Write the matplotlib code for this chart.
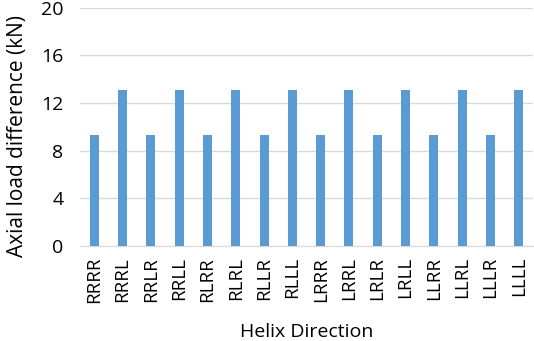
import numpy as np
import matplotlib.pyplot as plt

plt.rcParams['font.family'] = ['Open Sans', 'DejaVu Sans']

# helix combinations and their axial load difference
directions = ['RRRR', 'RRRL', 'RRLR', 'RRLL', 'RLRR', 'RLRL', 'RLLR', 'RLLL',
              'LRRR', 'LRRL', 'LRLR', 'LRLL', 'LLRR', 'LLRL', 'LLLR', 'LLLL']
load_diff = [9.3, 13.1, 9.3, 13.1, 9.3, 13.1, 9.3, 13.1,
             9.3, 13.1, 9.3, 13.1, 9.3, 13.1, 9.3, 13.1]
yticks = [0, 4, 8, 12, 16, 20]

fig = plt.figure(figsize=(5.34, 3.41), dpi=100)
ax = fig.add_axes([0.150, 0.279, 0.848, 0.698])

x = np.arange(len(directions))
ax.bar(x, load_diff, width=0.32, color='#5B9BD5', zorder=3)

ax.set_xlim(-0.5, len(directions) - 0.5)
ax.set_ylim(0, 20)
ax.set_yticks(yticks)
ax.set_xticks(x)
ax.set_xticklabels(directions, rotation=90, fontsize=13.5)
ax.tick_params(axis='y', labelsize=14, length=0, pad=12)
ax.tick_params(axis='x', length=0, pad=8)
ax.yaxis.grid(True, color='#D9D9D9', linewidth=1, zorder=0)
for s in ['top', 'right', 'left']:
    ax.spines[s].set_visible(False)
ax.spines['bottom'].set_color('#D9D9D9')

ax.set_ylabel('Axial load difference (kN)', fontsize=15, labelpad=5)
ax.yaxis.set_label_coords(-0.115, 0.46)
ax.set_xlabel('Helix Direction', fontsize=14, labelpad=14)

fig.savefig('out.png', dpi=100)
